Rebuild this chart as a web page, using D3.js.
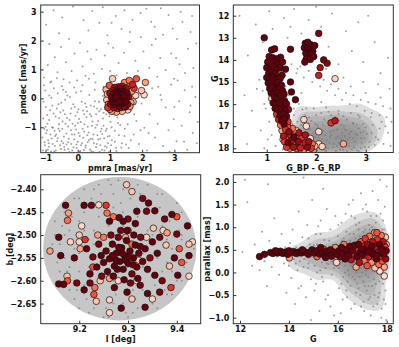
<!DOCTYPE html>
<html>
<head>
<meta charset="utf-8">
<script src="https://cdn.jsdelivr.net/npm/d3@7"></script>
<style>
body { margin: 0; background: #fff; }
text { font-family: "DejaVu Sans", sans-serif; font-weight: bold; }
</style>
</head>
<body>
<div class="chart"></div>
<script>
// ---- data ----

// proper motion panel: field stars [pmra, pmdec]
var pmField = [
[-1.08,-1.80],[-1.03,-1.52],[-0.98,-1.21],[-0.94,-0.88],[-0.90,-1.67],[-0.86,-0.41],[-0.81,-1.39],[-0.77,-1.02],[-0.73,-1.84],[-0.69,-0.63],
[-0.64,-1.48],[-0.60,-0.20],[-0.56,-1.13],[-0.52,-1.75],[-0.47,-0.79],[-0.43,-1.33],[-0.39,-0.05],[-0.35,-1.60],[-0.30,-0.97],[-0.26,-1.86],
[-0.22,-0.52],[-0.18,-1.25],[-0.13,-1.69],[-0.09,-0.30],[-0.05,-1.08],[0.00,-1.50],[0.04,-0.71],[0.08,-1.82],[0.12,-0.12],[0.17,-1.36],
[0.21,-0.90],[0.25,-1.63],[0.29,-0.45],[0.34,-1.18],[0.38,-1.77],[0.42,-0.62],[0.46,-1.41],[0.51,-0.28],[0.55,-1.02],[0.59,-1.58],
[0.63,-0.78],[0.68,-1.85],[0.72,-0.38],[0.76,-1.23],[0.80,-0.95],[0.85,-1.66],[0.89,-0.55],[0.93,-1.32],[0.97,-1.86],[1.02,-0.82],
[1.06,-1.45],[1.10,-0.48],[1.15,-1.12],[1.19,-1.71],[1.23,-0.66],[1.28,-1.28],[1.32,-0.92],[1.37,-1.55],[1.41,-0.35],[1.46,-1.05],
[-1.06,-0.12],[-1.01,0.27],[-0.95,-0.58],[-0.88,0.10],[-0.83,-1.84],[-0.79,-0.25],[-0.74,0.35],[-0.67,-1.25],[-0.62,0.18],[-0.54,-0.48],
[-0.49,0.42],[-0.45,-1.55],[-0.37,0.22],[-0.33,-0.68],[-0.28,-1.40],[-0.24,0.05],[-0.16,-0.88],[-0.11,0.38],[-0.03,-1.72],[0.02,-0.38],
[0.10,0.25],[0.15,-1.05],[0.23,-0.18],[0.31,-1.52],[0.36,0.12],[0.44,-0.95],[0.48,-1.85],[0.53,0.30],[0.61,-1.28],[0.66,-0.12],
[0.70,-1.62],[0.78,0.08],[0.87,-1.12],[0.95,-0.22],[1.04,-1.62],[-1.04,-1.05],[-0.92,-1.45],[-0.71,-1.65],[-0.58,-0.90],[-0.41,-1.78],
[-0.20,-1.58],[-0.07,-0.60],[0.06,-1.30],[0.19,-1.79],[0.27,-0.65],[0.40,-1.40],[0.57,-0.55],[0.74,-1.05],[0.83,-1.80],[0.99,-1.30],
[-1.10,-1.35],[-1.07,-0.70],[-1.02,-1.62],[-0.99,-0.30],[-0.96,-1.10],[-0.93,-1.78],[-0.89,-0.75],[-0.85,-1.25],[-0.82,0.02],[-0.78,-1.58],
[-0.75,-0.52],[-0.72,-1.12],[-0.68,-1.80],[-0.65,-0.35],[-0.62,-1.38],[-0.58,-0.68],[-0.55,-1.62],[-0.51,-0.15],[-0.48,-1.05],[-0.45,-0.42],
[-0.42,-1.68],[-0.38,-0.88],[-0.35,-1.22],[-0.32,0.10],[-0.29,-1.52],[-0.25,-0.75],[-0.21,-1.10],[-0.17,-1.80],[-0.14,-0.20],[-0.11,-1.42],
[-0.08,-0.95],[-0.04,-1.60],[-0.01,-0.48],[0.03,-1.20],[0.06,-1.85],[0.09,-0.82],[0.13,-1.55],[0.16,-0.42],[0.20,-1.15],[0.24,-1.70],
[0.27,-0.30],[0.31,-0.98],[0.35,-1.45],[0.38,-0.55],[0.42,-1.82],[0.46,-0.80],[0.49,-1.25],[0.53,-0.10],[0.57,-1.68],[0.60,-0.92],
[0.64,-1.42],[0.67,-0.45],[0.71,-1.15],[0.75,-1.78],[0.78,-0.70],[0.82,-1.38],[0.86,-0.28],[0.90,-1.05],[0.94,-1.55],[0.98,-0.62],
[-1.00,-0.98],[-0.80,-1.00],[-0.60,-1.05],[-0.40,-0.55],[-0.20,-0.35],[0.00,-0.85],[0.20,-0.55],[0.40,-0.25],[0.60,-0.35],[0.80,-0.50],
[-0.90,-1.55],[-0.70,-1.30],[-0.50,-1.48],[-0.30,-1.75],[-0.10,-1.25],[0.10,-1.62],[0.30,-1.28],[0.50,-1.55],[0.70,-1.40],[0.90,-1.70],
[1.05,-1.00],[1.15,-1.50],[1.25,-0.85],[1.35,-1.70],[1.45,-1.30],[1.55,-0.90],[1.65,-1.45],[1.20,-1.82],[1.50,-1.60],[1.75,-0.55],
[-1.05,0.45],[-0.85,0.55],[-0.65,0.70],[-0.45,0.30],[-0.25,0.55],[-0.05,0.20],[0.15,0.45],[0.35,0.68],[0.55,0.55],[0.80,0.40],
[1.00,0.55],[1.20,0.80],[2.50,0.40],[3.00,-0.30],[3.50,-0.25],[2.20,-1.20],[2.85,-1.85],[3.30,-1.50],[1.95,-1.10],[3.70,-1.55],
[-1.05,0.72],[-0.93,1.15],[-0.82,0.58],[-0.71,1.42],[-0.63,0.90],[-0.52,1.78],[-0.44,0.66],[-0.36,1.25],[-0.27,2.05],[-0.19,0.95],
[-0.10,1.55],[-0.02,0.62],[0.07,1.92],[0.15,1.10],[0.24,0.78],[0.33,2.35],[0.41,1.35],[0.50,0.85],[0.58,1.68],[0.67,2.62],
[0.75,1.02],[0.84,1.48],[0.92,2.18],[1.01,0.95],[1.10,1.75],[1.18,2.85],[1.27,1.22],[1.36,2.40],[1.44,1.58],[1.53,0.88],
[1.61,1.95],[1.70,2.72],[1.79,1.30],[1.87,0.95],[1.96,2.12],[2.04,1.62],[2.13,3.10],[2.22,1.05],[2.30,1.85],[2.39,2.48],
[2.47,0.75],[2.56,1.40],[2.65,2.20],[2.73,0.98],[2.82,2.88],[2.90,1.55],[2.99,0.68],[3.08,2.05],[3.16,1.18],[3.25,2.65],
[3.33,0.88],[3.42,1.72],[3.50,2.30],[3.59,1.05],[3.68,1.90],[-0.98,2.55],[-0.75,3.05],[-0.48,2.80],[-0.15,3.18],[0.18,2.70],
[0.45,3.02],[0.78,3.15],[1.05,2.62],[1.45,3.05],[1.62,2.30],[1.95,2.95],[2.28,2.65],[2.58,3.12],[2.95,2.42],[3.20,3.00],
[3.55,2.85],[-0.88,1.88],[-0.58,2.25],[0.30,1.62],[0.95,1.90],[2.42,2.05],[3.05,1.40],
[1.58,-1.72],[1.66,-0.42],[1.74,-1.25],[1.82,-0.78],[1.90,-1.58],[1.98,-0.18],[2.07,-1.02],[2.15,-1.80],[2.23,-0.55],[2.31,0.35],
[2.40,-1.35],[2.48,-0.88],[2.57,0.12],[2.65,-1.65],[2.73,-0.32],[2.82,-1.10],[2.90,0.48],[2.98,-0.72],[3.07,-1.48],[3.15,-0.10],
[3.23,-0.95],[3.32,0.28],[3.40,-1.78],[3.48,-0.48],[3.57,-1.20],[3.65,0.05],[3.72,-0.82],[1.62,0.52],[2.05,0.55],[2.60,-0.05],
[3.10,0.62],[3.55,0.40],[1.70,-0.05]
];

// proper motion panel: members [pmra, pmdec, probability]
var pmMembers = [
[1.05,0.02,0.98],[1.08,-0.12,1],[1.10,0.15,0.97],[1.12,0.28,0.95],[1.14,-0.22,0.99],[1.16,0.05,1],[1.18,-0.05,1],[1.19,0.22,0.99],
[1.21,0.10,1],[1.22,-0.15,1],[1.24,0.32,0.96],[1.25,0.00,1],[1.27,0.18,1],[1.28,-0.25,0.98],[1.30,0.07,1],[1.31,-0.08,1],
[1.33,0.25,0.99],[1.34,0.12,1],[1.36,-0.18,1],[1.37,0.02,1],[1.39,0.30,0.97],[1.40,-0.05,1],[1.42,0.15,1],[1.44,-0.28,0.96],
[1.45,0.08,1],[1.47,0.22,0.98],[1.49,-0.12,1],[1.51,0.03,0.99],[1.53,0.18,0.97],[1.55,-0.20,0.95],[1.02,-0.20,0.94],[1.00,0.18,0.93],
[1.15,0.38,0.92],[1.26,0.40,0.90],[1.38,0.42,0.91],[1.50,0.35,0.92],[1.58,0.05,0.93],[1.12,-0.32,0.93],[1.24,-0.35,0.90],[1.35,-0.32,0.92],
[1.48,-0.30,0.94],[1.20,0.05,1],[1.29,-0.12,1],[1.32,0.35,0.97],[1.43,-0.15,0.99],
[0.95,-0.20,0.72],[0.90,-0.05,0.55],[0.92,0.15,0.60],[0.97,0.30,0.52],[1.08,0.68,0.53],[1.52,0.53,0.55],[1.62,0.45,0.68],[1.82,0.68,0.75],
[2.10,0.55,0.62],[1.98,0.27,0.55],[2.06,0.12,0.50],[1.72,-0.12,0.57],[1.68,0.25,0.62],[1.75,0.35,0.80],[1.62,-0.28,0.65],[1.00,-0.38,0.70],
[1.05,-0.45,0.62],[1.20,-0.48,0.60],[1.38,-0.45,0.58],[1.55,-0.40,0.52],[1.65,-0.15,0.60],[0.88,0.30,0.58],[1.45,0.55,0.66],[1.80,0.10,0.52],
[0.98,0.45,0.75],[1.70,0.48,0.85],[1.60,0.62,0.70],[0.93,-0.32,0.80]
];

// colour-magnitude panel: field stars [G_BP - G_RP, G]
var cmdField = [
[0.45,12.0],[0.62,13.8],[0.78,12.4],[0.85,14.9],[0.92,13.2],[1.05,11.8],[1.12,12.6],[1.20,15.2],[1.35,12.1],[1.42,13.0],
[1.55,11.7],[1.62,14.4],[1.70,12.8],[1.85,12.2],[1.98,13.9],[2.10,12.5],[2.25,13.4],[2.32,11.9],[2.45,14.2],[2.60,12.7],
[2.72,13.6],[2.85,12.3],[2.95,14.1],[3.05,12.0],[3.18,13.2],[3.30,14.6],[3.45,13.9],[0.55,15.6],[0.70,16.3],[0.88,17.2],
[0.60,17.8],[0.95,16.0],[0.80,15.3],[1.48,12.5],[2.00,11.6],
[1.50,14.2],[1.60,14.6],[1.68,14.3],[1.75,14.8],[1.85,14.5],[1.92,15.0],[2.00,14.7],[2.08,15.2],[2.15,14.9],[2.22,15.4],
[2.30,15.1],[2.38,15.6],[2.45,15.3],[2.52,15.8],[2.60,15.5],[2.68,16.0],[2.75,15.6],[2.82,16.1],[2.90,15.8],[2.98,16.3],
[3.05,15.9],[3.12,16.4],[3.20,16.0],[3.28,16.5],[3.35,16.1],[3.42,16.6],[3.50,16.2],[2.40,14.9],[2.70,15.2],[3.00,15.5],
[3.30,15.7],[3.48,15.3],[1.90,14.0],[2.20,14.4],[2.55,14.8],[2.95,15.0],[3.25,15.1],[1.70,15.5],[2.10,15.9],[2.45,16.3],
[1.55,15.7],[1.80,16.2],
[1.52,17.9],[1.58,17.3],[1.62,16.8],[1.66,18.1],[1.70,17.6],[1.74,17.0],[1.78,16.5],[1.82,17.9],[1.86,17.35],[1.90,16.75],
[1.94,18.05],[1.98,17.5],[2.02,16.95],[2.06,17.8],[2.10,16.4],[2.14,17.2],[2.18,18.1],[2.22,17.65],[2.26,16.85],[2.30,17.4],
[2.34,17.95],[2.38,16.6],[2.42,17.15],[2.46,17.75],[2.50,16.95],[2.54,18.08],[2.58,17.45],[2.62,16.7],[2.66,17.9],[2.70,17.25],
[2.74,16.85],[2.78,17.7],[2.82,18.1],[2.86,17.1],[2.90,17.55],[2.94,16.9],[2.98,17.95],[3.02,17.35],[3.08,17.7],[3.14,16.95],
[3.20,17.5],[3.28,17.1],[3.36,17.8],[3.45,17.3],[3.52,16.8],
[1.60,17.65],[1.68,17.15],[1.76,18.02],[1.84,16.95],[1.92,17.7],[2.00,18.1],[2.08,17.3],[2.16,16.7],[2.24,18.0],[2.32,17.0],
[2.40,17.55],[2.48,18.05],[2.56,17.0],[2.64,17.6],[2.72,18.05],[2.80,17.35],[2.88,16.6],[2.96,17.25],[1.72,16.25],[1.95,16.2],
[2.20,16.15],[2.45,16.45],[2.70,16.4],[2.85,16.5],[2.35,17.8],[2.05,17.55],[1.80,17.55],[2.60,17.85],[2.90,18.0],[2.52,17.3],
[2.28,17.25],
[1.64,17.85],[1.72,17.35],[1.80,18.08],[1.88,17.15],[1.96,17.85],[2.04,17.05],[2.12,17.6],[2.20,17.95],[2.28,17.5],[2.36,16.9],
[2.44,17.45],[2.52,17.85],[2.60,17.2],[2.68,17.5],[2.76,17.95],[2.84,17.4],[2.92,17.75],[3.00,17.05],[3.06,17.95],[3.12,17.3],
[1.70,16.95],[1.78,17.25],[1.86,17.65],[1.94,17.3],[2.02,17.75],[2.10,18.0],[2.18,17.4],[2.26,17.75],[2.34,17.2],[2.42,17.9],
[2.50,17.6],[2.58,17.15],[2.66,17.35],[2.74,17.55],[2.82,16.95],[2.90,17.3],[2.98,17.55],[1.98,16.9],[2.14,16.95],[2.46,16.75],
[1.85,16.6],[2.30,16.5],[2.55,16.55],[2.75,16.9],[3.10,16.6],[3.25,17.6],[3.40,17.0],[3.50,17.9],[3.32,16.8],[3.18,17.85],
[2.40,18.12],[2.20,18.12],[1.90,18.12],[2.62,18.12],[2.86,18.12],[1.58,18.05],[1.55,16.5],[1.65,16.0],[2.00,16.5],[2.25,16.35],
[0.92,15.4],[0.98,16.2],[1.05,16.8],[1.10,17.4],[1.18,17.9],[1.25,17.2],[1.32,18.05],[1.40,16.4],[1.46,17.6],[1.52,16.9],
[1.45,15.6],[1.55,16.2],[1.02,17.6],[0.95,18.0],[1.15,16.6],[1.38,15.2]
];

// colour-magnitude panel: members [G_BP - G_RP, G, probability]
var cmdMembers = [
[0.95,13.0,1],[1.10,13.55,1],[1.16,13.5,1],[1.48,13.52,1],
[1.05,13.85,0.98],[1.12,13.9,1],[1.20,13.95,1],[1.28,13.88,0.99],[1.02,14.10,1],[1.09,14.15,0.75],[1.15,14.05,1],[1.22,14.2,1],
[1.32,14.1,1],[1.00,14.35,1],[1.08,14.4,1],[1.14,14.3,1],[1.19,14.45,1],[1.27,14.35,1],[1.38,14.42,1],[1.04,14.6,1],
[1.11,14.55,1],[1.17,14.65,1],[1.25,14.58,0.7],[1.31,14.7,1],[1.00,14.8,1],[1.06,14.85,1],[1.13,14.78,1],[1.20,14.9,1],
[1.27,14.85,1],[1.03,15.05,1],[1.09,15.0,1],[1.16,15.1,1],[1.23,15.02,1],[1.30,15.15,1],[1.48,15.0,1],
[1.06,15.3,1],[1.12,15.25,1],[1.18,15.35,1],[1.25,15.3,1],[1.32,15.4,1],[1.09,15.5,1],[1.15,15.55,1],[1.21,15.48,1],
[1.28,15.6,1],[1.35,15.55,1],[1.10,15.75,0.55],[1.16,15.7,1],[1.22,15.8,1],[1.29,15.75,1],[1.36,15.85,1],[1.13,15.95,1],
[1.19,16.0,1],[1.26,15.95,1],[1.32,16.05,1],[1.40,16.0,1],[1.50,15.45,1],[1.58,15.8,1],
[1.17,16.2,1],[1.23,16.25,1],[1.30,16.2,1],[1.37,16.3,1],[1.44,16.25,0.95],[1.20,16.45,0.8],[1.27,16.5,1],[1.33,16.45,1],
[1.40,16.55,1],[1.24,16.7,0.85],[1.30,16.75,1],[1.36,16.68,1],[1.43,16.8,0.8],[1.28,16.95,0.7],[1.35,16.9,1],[1.42,17.0,0.75],
[1.26,16.6,0.72],
[1.31,17.2,0.6],[1.38,17.15,0.8],[1.45,17.25,0.95],[1.52,17.1,0.7],[1.60,17.2,0.55],[1.75,16.7,0.52],[1.80,17.0,0.5],[2.05,17.25,0.5],
[1.34,17.45,0.9],[1.41,17.5,0.75],[1.48,17.4,0.85],[1.55,17.5,1],[1.62,17.45,0.62],[1.70,17.55,0.8],[1.78,17.4,0.9],[1.36,17.7,0.78],
[1.43,17.75,1],[1.50,17.65,0.9],[1.57,17.8,0.72],[1.64,17.7,0.95],[1.71,17.85,0.6],[1.78,17.75,0.85],[1.85,17.7,0.92],[1.92,17.8,0.7],
[1.40,17.95,0.8],[1.47,18.0,0.68],[1.54,17.95,0.92],[1.61,18.02,0.75],[1.68,17.98,0.85],[1.75,18.05,0.65],[1.82,17.95,0.95],[1.90,18.0,0.8],
[1.97,17.9,0.55],[2.05,17.8,0.5],[2.12,17.92,0.52],[1.33,17.6,0.55],[1.88,17.55,0.5],[1.65,17.3,0.9],
[1.78,13.25,1],[1.83,13.2,1],[1.88,13.3,1],[1.92,13.4,1],[1.97,13.35,1],[1.76,13.45,1],[1.82,13.5,1],[1.87,13.55,1],
[1.93,13.6,1],[1.79,13.7,1],[1.85,13.75,1],[1.90,13.72,1],[1.95,13.85,1],[1.80,13.95,1],[1.88,13.98,1],[1.77,14.1,1],
[2.05,12.8,0.98],[2.15,14.0,0.98],[2.22,14.15,0.96],[2.08,14.35,0.92],[2.05,14.7,0.85],[2.38,14.85,0.52],[2.38,16.75,0.88],
[2.30,16.85,0.8],[2.55,17.8,0.6]
];

// sky panel: survey footprint [l centre, b centre, radius in deg]
var skyFootprint = [9.283, -2.530, 0.157];

// sky panel: field stars [l, b]
var skyField = [
[9.15,-2.50],[9.16,-2.58],[9.17,-2.45],[9.18,-2.62],[9.19,-2.53],[9.20,-2.42],[9.20,-2.66],[9.21,-2.49],[9.22,-2.57],[9.23,-2.40],
[9.23,-2.63],[9.24,-2.46],[9.25,-2.54],[9.25,-2.68],[9.26,-2.38],[9.27,-2.60],[9.27,-2.44],[9.28,-2.51],[9.29,-2.65],[9.29,-2.40],
[9.30,-2.57],[9.31,-2.47],[9.31,-2.67],[9.32,-2.39],[9.33,-2.54],[9.33,-2.62],[9.34,-2.44],[9.35,-2.50],[9.35,-2.65],[9.36,-2.41],
[9.37,-2.58],[9.38,-2.46],[9.38,-2.63],[9.39,-2.53],[9.40,-2.43],[9.40,-2.60],[9.41,-2.50],[9.42,-2.56],[9.43,-2.52],[9.14,-2.54],
[9.15,-2.47],[9.16,-2.61],[9.19,-2.42],[9.19,-2.64],[9.21,-2.40],[9.22,-2.67],[9.24,-2.39],[9.26,-2.68],[9.28,-2.38],[9.30,-2.68],
[9.32,-2.66],[9.34,-2.39],[9.36,-2.66],[9.37,-2.41],[9.39,-2.63],[9.41,-2.45],[9.41,-2.60],[9.42,-2.48],[9.17,-2.55],[9.20,-2.58],
[9.22,-2.51],[9.24,-2.60],[9.26,-2.48],[9.28,-2.57],[9.30,-2.52],[9.32,-2.59],[9.34,-2.49],[9.36,-2.55],[9.38,-2.51],[9.40,-2.55],
[9.18,-2.49],[9.21,-2.45],[9.23,-2.52],[9.25,-2.43],[9.27,-2.65],[9.29,-2.45],[9.31,-2.62],[9.33,-2.42],[9.35,-2.59],[9.37,-2.48],
[9.39,-2.58],[9.19,-2.60],[9.23,-2.66],[9.27,-2.41],[9.31,-2.40],[9.35,-2.45],[9.38,-2.56],[9.16,-2.52],[9.41,-2.53],
[9.145,-2.52],[9.155,-2.56],[9.165,-2.48],[9.175,-2.58],[9.185,-2.46],[9.195,-2.62],[9.205,-2.44],[9.215,-2.64],[9.225,-2.42],[9.235,-2.62],
[9.245,-2.41],[9.255,-2.66],[9.265,-2.39],[9.275,-2.63],[9.285,-2.43],[9.295,-2.67],[9.305,-2.42],[9.315,-2.64],[9.325,-2.41],[9.335,-2.63],
[9.345,-2.43],[9.355,-2.61],[9.365,-2.44],[9.375,-2.62],[9.385,-2.47],[9.395,-2.61],[9.405,-2.49],[9.415,-2.57],[9.425,-2.54],[9.435,-2.53],
[9.17,-2.50],[9.20,-2.47],[9.23,-2.49],[9.26,-2.45],[9.29,-2.48],[9.32,-2.46],[9.35,-2.48],[9.38,-2.49],[9.41,-2.51],[9.18,-2.57],
[9.21,-2.61],[9.24,-2.57],[9.27,-2.62],[9.30,-2.60],[9.33,-2.57],[9.36,-2.62],[9.39,-2.55],[9.26,-2.53],[9.31,-2.55],[9.20,-2.54]
];

// sky panel: members [l, b, probability]
var skyMembers = [
[9.255,-2.535,1],[9.262,-2.552,1],[9.268,-2.520,1],[9.272,-2.568,1],[9.276,-2.540,1],[9.280,-2.505,0.98],[9.283,-2.558,1],[9.287,-2.528,1],
[9.290,-2.575,1],[9.293,-2.545,1],[9.297,-2.512,1],[9.300,-2.562,1],[9.304,-2.535,1],[9.308,-2.585,0.98],[9.311,-2.550,1],[9.315,-2.522,1],
[9.318,-2.570,1],[9.322,-2.540,1],[9.326,-2.505,0.97],[9.330,-2.558,1],[9.250,-2.560,1],[9.258,-2.580,1],[9.265,-2.500,0.97],[9.270,-2.590,1],
[9.278,-2.575,1],[9.285,-2.490,0.99],[9.292,-2.598,1],[9.298,-2.490,1],[9.305,-2.605,0.98],[9.312,-2.500,1],[9.320,-2.595,1],[9.335,-2.530,1],
[9.340,-2.575,0.99],[9.245,-2.545,1],[9.240,-2.520,0.98],[9.236,-2.570,1],[9.246,-2.590,0.97],[9.275,-2.555,1],[9.295,-2.555,1],[9.302,-2.548,1],
[9.288,-2.540,1],[9.281,-2.527,1],[9.268,-2.545,1],[9.310,-2.565,1],[9.325,-2.525,1],[9.345,-2.550,0.96],[9.350,-2.515,1],[9.355,-2.588,1],
[9.228,-2.548,0.98],[9.222,-2.585,1],[9.290,-2.470,1],[9.300,-2.465,0.98],[9.315,-2.475,1],[9.262,-2.470,1],[9.272,-2.615,1],[9.298,-2.625,1],
[9.325,-2.610,0.99],[9.360,-2.540,1],[9.365,-2.505,0.98],[9.215,-2.530,1],
[9.295,-2.505,0.6],[9.308,-2.520,0.72],[9.322,-2.555,0.55],[9.262,-2.595,0.62],[9.280,-2.600,0.52],[9.318,-2.600,0.5],[9.338,-2.505,0.52],
[9.250,-2.505,0.68],[9.300,-2.490,0.75],[9.243,-2.600,0.55],
[9.172,-2.435,1],[9.178,-2.452,0.62],[9.176,-2.468,0.7],[9.205,-2.480,0.5],[9.210,-2.435,1],[9.225,-2.435,0.98],[9.240,-2.434,0.52],[9.255,-2.435,0.8],
[9.257,-2.452,0.7],[9.297,-2.390,0.55],[9.308,-2.405,0.55],[9.330,-2.420,0.98],[9.342,-2.430,1],[9.270,-2.460,0.7],[9.282,-2.462,0.98],[9.318,-2.448,1],
[9.338,-2.448,0.98],[9.355,-2.447,1],[9.390,-2.455,1],[9.400,-2.460,0.75],[9.375,-2.465,0.98],[9.352,-2.485,0.55],[9.372,-2.490,0.52],[9.380,-2.495,0.62],
[9.400,-2.498,0.98],[9.425,-2.520,0.55],[9.425,-2.545,1],[9.405,-2.530,0.75],[9.378,-2.522,0.55],[9.410,-2.560,0.75],[9.385,-2.568,0.55],[9.395,-2.550,1],
[9.425,-2.590,0.52],[9.402,-2.588,1],[9.370,-2.600,0.98],[9.388,-2.615,0.8],[9.340,-2.628,1],[9.350,-2.640,0.52],[9.335,-2.658,1],[9.365,-2.625,0.98],
[9.308,-2.640,0.55],[9.286,-2.660,1],[9.262,-2.642,0.52],[9.262,-2.670,0.52],[9.235,-2.645,0.55],[9.230,-2.630,0.75],[9.222,-2.605,0.98],[9.210,-2.620,1],
[9.195,-2.605,0.98],[9.158,-2.607,1],[9.168,-2.608,1],[9.175,-2.590,0.55],[9.176,-2.600,0.75],[9.140,-2.535,0.62],[9.158,-2.505,1],[9.162,-2.545,1],
[9.190,-2.550,1],[9.182,-2.515,0.52],[9.200,-2.500,0.55],[9.200,-2.515,0.52],[9.202,-2.530,0.6],[9.212,-2.510,0.8],[9.228,-2.570,0.75],[9.238,-2.500,0.62],
[9.232,-2.615,0.7],[9.422,-2.480,1],[9.432,-2.515,0.52]
];

// parallax panel: field stars [G, parallax]
var plxField = [
[12.1,0.45],[12.3,1.55],[12.5,0.15],[12.6,0.62],[12.8,0.05],[12.9,0.9],[13.0,0.25],[13.1,-0.3],[13.2,0.7],[13.3,0.12],
[13.4,1.2],[13.5,0.35],[13.6,-0.05],[13.7,0.85],[13.8,0.2],[13.85,0.55],[13.9,-0.45],[12.2,2.05],[13.15,1.95],[13.65,0.52],
[14.0,0.15],[14.05,0.65],[14.1,-0.12],[14.15,0.95],[14.2,0.30],[14.25,-0.7],[14.3,0.55],[14.35,0.05],[14.4,1.35],[14.45,0.25],
[14.5,-0.3],[14.55,0.78],[14.6,0.12],[14.65,0.45],[14.7,-0.55],[14.75,1.05],[14.8,0.2],[14.85,0.62],[14.9,-0.15],[14.95,1.6],
[15.0,0.35],[15.05,-0.4],[15.1,0.85],[15.15,0.0],[15.2,0.58],[15.25,-0.85],[15.3,1.15],[15.35,0.22],[15.4,-0.2],[15.45,0.72],
[15.5,0.1],[15.55,1.4],[15.6,-0.5],[15.65,0.4],[15.7,0.95],[15.75,-0.05],[15.8,0.6],[15.85,-0.95],[15.9,1.25],[15.95,0.15],
[14.12,0.42],[14.38,0.35],[14.62,0.30],[14.88,0.40],[15.12,0.28],[15.38,0.45],[15.62,0.18],[15.88,0.38],[14.28,0.2],[14.52,0.5],
[14.78,0.1],[15.02,0.6],[15.28,0.05],[15.52,0.55],[15.78,0.25],[14.9,-1.05],[15.4,1.85],[14.6,2.1],[15.7,-0.75],[15.2,1.02],
[16.0,0.8],[16.05,-0.35],[16.1,0.2],[16.15,1.1],[16.2,-0.6],[16.25,0.45],[16.3,0.0],[16.35,0.9],[16.4,-0.2],[16.45,1.5],
[16.5,0.3],[16.55,-0.8],[16.6,0.65],[16.65,0.1],[16.7,1.2],[16.75,-0.45],[16.8,0.4],[16.85,0.95],[16.9,-0.1],[16.95,1.75],
[17.0,0.25],[17.05,-0.65],[17.1,0.7],[17.15,0.05],[17.2,1.35],[17.25,-0.3],[17.3,0.5],[17.35,-0.95],[17.4,1.0],[17.45,0.15],
[17.5,-0.5],[17.55,0.85],[17.6,0.0],[17.65,1.6],[17.7,-0.2],[17.75,0.45],[17.8,-0.8],[17.85,1.15],[17.9,0.2],[17.95,-0.4],
[18.0,0.7],[18.0,1.9],[17.98,-1.05],[17.92,1.45],[17.88,-0.6],[17.82,0.95],[17.78,-1.0],[17.72,2.05],[17.68,0.6],[17.62,-0.7],
[17.58,1.25],[17.52,0.35],[17.48,-0.15],[17.42,1.8],[17.38,0.6],[17.32,-0.55],[17.28,1.05],[17.22,0.2],[17.18,-0.4],[17.12,0.95],
[17.08,-0.85],[17.02,1.4],[16.98,0.55],[16.92,-0.5],[16.88,1.1],[16.82,0.15],[16.78,-0.25],[16.72,0.75],[16.68,-0.7],[16.62,1.6],
[16.58,0.35],[16.52,-0.3],[16.48,0.85],[16.42,0.05],[16.38,-0.55],[16.32,1.3],[16.28,0.5],[16.22,-0.1],[16.18,0.7],[16.12,-0.9],
[16.08,0.35],[16.02,1.05],
[16.6,0.25],[16.7,0.35],[16.8,0.6],[16.9,0.3],[17.0,0.65],[17.1,0.4],[17.2,0.75],[17.3,0.15],[17.4,0.35],[17.5,0.6],
[17.6,0.25],[17.7,0.8],[17.8,0.35],[17.9,0.55],[18.0,0.1],[17.55,0.1],[17.65,0.45],[17.75,0.05],[17.85,0.4],[17.95,0.85],
[17.45,0.9],[17.35,0.25],[17.25,0.55],[17.15,-0.05],[17.05,0.3],[16.95,0.1],[16.85,0.45],[16.75,0.2],[16.65,0.5],[16.55,0.15],
[15.05,0.15],[15.15,0.62],[15.25,0.32],[15.35,-0.1],[15.45,0.5],[15.55,0.2],[15.65,0.7],[15.75,0.45],[15.85,0.1],[15.95,0.62],
[16.05,0.1],[16.15,0.4],[16.25,0.75],[16.35,0.25],[16.45,-0.05],[16.55,0.55],[16.65,0.85],[16.75,0.0],[16.85,-0.35],[16.95,0.35],
[17.05,0.9],[17.15,0.3],[17.25,-0.1],[17.35,0.7],[17.45,0.45],[17.55,-0.25],[17.65,0.15],[17.75,0.7],[17.85,-0.05],[17.95,0.3],
[16.1,0.6],[16.3,0.15],[16.5,0.7],[16.7,-0.15],[16.9,0.8],[17.1,-0.3],[17.3,0.95],[17.5,0.2],[17.7,-0.45],[17.9,0.95],
[16.2,0.25],[16.4,0.55],[16.6,-0.1],[16.8,0.2],[17.0,0.0],[17.2,0.45],[17.4,-0.3],[17.6,0.55],[17.8,0.1],[18.0,0.45],
[17.95,-0.7],[17.85,-0.25],[17.75,1.3],[17.65,-0.55],[17.55,1.1],[17.45,-0.75],[17.35,1.25],[17.25,-0.6],[17.15,1.5],[17.05,-0.2],
[16.95,-0.75],[16.75,1.05],[16.55,1.25],[16.35,-0.4],[16.15,-0.25],[15.5,-0.6],[15.3,0.85],[15.1,-0.25],[14.8,0.75],[14.4,-0.35]
];

// parallax panel: members [G, parallax, probability]
var plxMembers = [
[12.8,0.35,1],[13.0,0.40,1],[13.25,0.44,1],[13.35,0.42,1],[13.5,0.46,1],[13.55,0.43,0.98],[13.65,0.47,1],[13.75,0.42,1],
[13.85,0.45,1],[13.95,0.40,1],[14.02,0.32,0.62],[14.1,0.44,1],[14.2,0.46,1],[14.3,0.42,1],[14.4,0.45,1],[14.5,0.43,1],
[14.6,0.47,1],[14.7,0.44,1],[14.8,0.40,1],[14.9,0.46,1],[14.95,0.50,0.98],[15.05,0.43,1],[15.15,0.48,1],[15.25,0.41,1],
[15.35,0.45,1],[15.4,0.52,0.7],[15.45,0.38,1],[15.55,0.47,1],[15.6,0.42,0.95],[15.7,0.50,1],[15.75,0.36,1],[15.85,0.45,1],
[15.9,0.55,0.65],[15.95,0.22,0.52],[15.98,0.40,1],[13.45,0.48,1],[14.55,0.50,1],[15.15,0.35,0.72],[14.0,0.48,1],[15.3,0.55,1],
[15.5,0.33,1],
[16.05,0.48,1],[16.1,0.35,0.98],[16.15,0.55,1],[16.2,0.42,1],[16.25,0.62,0.7],[16.3,0.30,1],[16.35,0.50,1],[16.4,0.45,0.85],
[16.45,0.38,1],[16.5,0.58,1],[16.55,0.28,0.9],[16.6,0.48,1],[16.65,0.40,0.75],[16.7,0.60,1],[16.75,0.12,0.6],[16.78,0.35,1],
[16.82,0.52,0.8],[16.88,0.22,0.9],[16.92,0.45,1],[16.95,0.68,0.75],[17.0,0.38,1],[17.05,0.58,0.85],[17.08,0.25,0.7],[17.12,0.75,0.8],
[17.15,0.48,1],[17.2,0.15,0.75],[17.22,0.62,0.95],[17.28,0.35,0.85],[17.3,0.80,0.7],[17.35,0.50,1],[17.38,0.22,0.65],[17.42,0.68,0.9],
[17.45,0.40,1],[17.5,0.88,0.65],[17.52,0.10,0.55],[17.55,0.55,0.85],[17.58,0.30,1],[17.62,0.72,0.8],[17.65,0.45,0.95],[17.68,0.18,0.7],
[17.7,0.62,1],[17.72,0.03,0.5],[17.75,0.35,0.85],[17.78,0.82,0.7],[17.8,0.52,1],[17.82,0.25,0.75],[17.85,0.68,0.9],[17.88,0.40,1],
[17.9,0.12,0.6],[17.92,0.58,0.8],[17.95,0.78,0.55],[17.96,0.30,0.95],[17.98,0.48,1],[17.9,-0.08,0.5],[17.98,0.62,0.58],[17.6,0.88,0.75],
[16.98,0.52,1],[17.4,0.58,1],[16.85,0.62,1],[17.25,0.45,1],[17.6,0.38,1]
];

// tick values
var pmraTicks = [-1, 0, 1, 2, 3];
var pmdecTicks = [-1, 0, 1, 2, 3];
var colorTicks = [1, 2, 3];
var gTicks = [12, 13, 14, 15, 16, 17, 18];
var lTicks = [9.2, 9.3, 9.4];
var bTicks = [-2.40, -2.45, -2.50, -2.55, -2.60, -2.65];
var gTicks2 = [12, 14, 16, 18];
var plxTicks = [-1.0, -0.5, 0.0, 0.5, 1.0, 1.5, 2.0];

// ---- set-up ----

var svgWidth = 399;
var svgHeight = 347;

var svg = d3.select(".chart")
    .append("svg")
    .attr("width", svgWidth)
    .attr("height", svgHeight);

// membership probability -> Reds colour map
var reds = d3.scaleSequential(d3.interpolateReds).domain([0.42, 1]);

function drawPanel(cfg) {

    var g = svg.append("g")
        .attr("transform", "translate(" + cfg.left + "," + cfg.top + ")");

    var x = d3.scaleLinear().domain(cfg.xDomain).range([0, cfg.width]);
    var y = d3.scaleLinear().domain(cfg.yDomain).range([cfg.height, 0]);

    g.append("clipPath")
        .attr("id", "clip-" + cfg.name)
        .append("rect")
        .attr("width", cfg.width)
        .attr("height", cfg.height);

    var plot = g.append("g").attr("clip-path", "url(#clip-" + cfg.name + ")");

    // footprint of the survey (sky panel only)
    if (cfg.footprint) {
        var fp = cfg.footprint;
        plot.append("ellipse")
            .attr("cx", x(fp[0]))
            .attr("cy", y(fp[1]))
            .attr("rx", x(fp[0] + fp[2]) - x(fp[0]))
            .attr("ry", y(fp[1] - fp[2]) - y(fp[1]))
            .attr("fill", "#c6c6c6");
    }

    // density of the field stars, only the crowded parts
    if (cfg.density) {
        var contours = d3.contourDensity()
            .x(function(d) { return x(d[0]); })
            .y(function(d) { return y(d[1]); })
            .size([cfg.width, cfg.height])
            .bandwidth(cfg.bandwidth)
            .thresholds(12)(cfg.field);

        var maxV = d3.max(contours, function(c) { return c.value; });

        plot.selectAll("path.dens")
            .data(contours.filter(function(c) { return c.value >= cfg.densityFrac * maxV; }))
            .enter()
            .append("path")
            .attr("class", "dens")
            .attr("d", d3.geoPath())
            .attr("fill", "#858585")
            .attr("fill-opacity", 0.27);
    }

    plot.selectAll("circle.field")
        .data(cfg.field)
        .enter()
        .append("circle")
        .attr("class", "field")
        .attr("cx", function(d) { return x(d[0]); })
        .attr("cy", function(d) { return y(d[1]); })
        .attr("r", 1)
        .attr("fill", "#7a7a7a")
        .attr("fill-opacity", 0.7);

    var members = cfg.members.slice().sort(function(a, b) { return a[2] - b[2]; });

    plot.selectAll("circle.member")
        .data(members)
        .enter()
        .append("circle")
        .attr("class", "member")
        .attr("cx", function(d) { return x(d[0]); })
        .attr("cy", function(d) { return y(d[1]); })
        .attr("r", 3.3)
        .attr("fill", function(d) { return reds(d[2]); })
        .attr("stroke", "#111")
        .attr("stroke-width", 0.7);

    // axes, ticks pointing inwards
    var bottomAxis = d3.axisBottom(x)
        .tickValues(cfg.xTicks)
        .tickFormat(cfg.xFormat)
        .tickSizeInner(-3)
        .tickSizeOuter(0)
        .tickPadding(2.5);

    var leftAxis = d3.axisLeft(y)
        .tickValues(cfg.yTicks)
        .tickFormat(cfg.yFormat)
        .tickSizeInner(-3)
        .tickSizeOuter(0)
        .tickPadding(4);

    var xa = g.append("g")
        .attr("transform", "translate(0," + cfg.height + ")")
        .call(bottomAxis);

    var ya = g.append("g")
        .call(leftAxis);

    [xa, ya].forEach(function(a) {
        a.select(".domain").remove();
        a.selectAll("line").attr("stroke", "#333");
        a.selectAll("text")
            .attr("font-size", "8px")
            .attr("font-family", "DejaVu Sans")
            .attr("font-weight", "bold")
            .attr("fill", "#111");
    });

    // frame
    g.append("rect")
        .attr("width", cfg.width)
        .attr("height", cfg.height)
        .attr("fill", "none")
        .attr("stroke", "#333")
        .attr("stroke-width", 1);

    // axis labels
    g.append("text")
        .attr("x", cfg.width / 2)
        .attr("y", cfg.height + 18.5)
        .attr("text-anchor", "middle")
        .attr("font-size", "8px")
        .attr("fill", "#111")
        .text(cfg.xLabel);

    g.append("text")
        .attr("transform", "rotate(-90)")
        .attr("x", -cfg.height / 2)
        .attr("y", cfg.yLabelX)
        .attr("text-anchor", "middle")
        .attr("font-size", "8px")
        .attr("fill", "#111")
        .text(cfg.yLabel);
}

var intFmt = d3.format("d");

drawPanel({
    name: "pm", left: 40.7, top: 5, width: 158.8, height: 147.7,
    xDomain: [-1.15, 3.78], yDomain: [-1.88, 3.23],
    field: pmField, members: pmMembers,
    xTicks: pmraTicks, yTicks: pmdecTicks, xFormat: intFmt, yFormat: intFmt,
    xLabel: "pmra [mas/yr]", yLabel: "pmdec [mas/yr]", yLabelX: -14.7
});

drawPanel({
    name: "cmd", left: 233.3, top: 5, width: 160, height: 147.5,
    xDomain: [0.325, 3.557], yDomain: [18.19, 11.516],
    field: cmdField, members: cmdMembers,
    density: true, bandwidth: 6, densityFrac: 0.3,
    xTicks: colorTicks, yTicks: gTicks, xFormat: intFmt, yFormat: intFmt,
    xLabel: "G_BP - G_RP", yLabel: "G", yLabelX: -15.3
});

drawPanel({
    name: "sky", left: 40.7, top: 174.7, width: 160, height: 149,
    xDomain: [9.121, 9.449], yDomain: [-2.694, -2.368],
    field: skyField, members: skyMembers, footprint: skyFootprint,
    xTicks: lTicks, yTicks: bTicks, xFormat: d3.format(".1f"), yFormat: d3.format(".2f"),
    xLabel: "l [deg]", yLabel: "b [deg]", yLabelX: -27.7
});

drawPanel({
    name: "plx", left: 233.3, top: 174.7, width: 160, height: 149,
    xDomain: [11.726, 18.27], yDomain: [-1.133, 2.161],
    field: plxField, members: plxMembers,
    density: true, bandwidth: 6, densityFrac: 0.3,
    xTicks: gTicks2, yTicks: plxTicks, xFormat: intFmt, yFormat: d3.format(".1f"),
    xLabel: "G", yLabel: "parallax [mas]", yLabelX: -23.3
});
</script>
</body>
</html>
